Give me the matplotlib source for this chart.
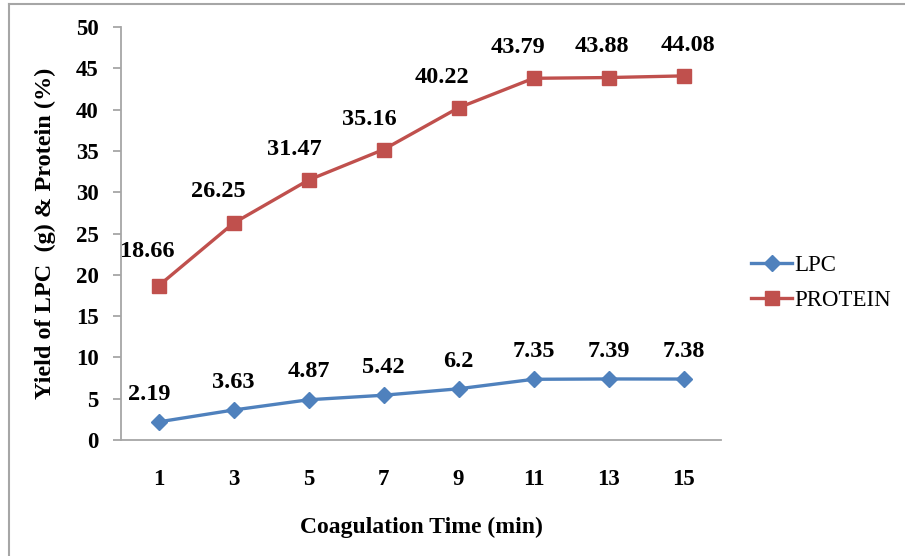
import matplotlib.pyplot as plt
from matplotlib.lines import Line2D

# data
times = ['1', '3', '5', '7', '9', '11', '13', '15']
lpc = [2.19, 3.63, 4.87, 5.42, 6.2, 7.35, 7.39, 7.38]
protein = [18.66, 26.25, 31.47, 35.16, 40.22, 43.79, 43.88, 44.08]
lpc_labels = ['2.19', '3.63', '4.87', '5.42', '6.2', '7.35', '7.39', '7.38']
protein_labels = ['18.66', '26.25', '31.47', '35.16', '40.22', '43.79', '43.88', '44.08']

plt.rcParams['font.family'] = ['Liberation Serif', 'DejaVu Serif']

fig = plt.figure(figsize=(9.05, 5.56), dpi=100)
ax = fig.add_axes([121/905, 1 - 440/556, 600/905, 413/556])

x = list(range(len(times)))
ax.plot(x, lpc, color='#4F81BD', lw=2.4, marker='D', ms=8.5, label='LPC')
ax.plot(x, protein, color='#C0504D', lw=2.4, marker='s', ms=10.5, label='PROTEIN')

# data labels (small horizontal nudges as in the original)
lpc_dx = [-7, 0, 0, 0, 0, 0, 0, 0]
prot_dx = [-8, -11, -10, -10, -12, -11, -5, 3]
prot_dy = [25, 23, 22, 22, 22, 22, 22, 22]
for i in x:
    ax.annotate(lpc_labels[i], (i, lpc[i]), xytext=(lpc_dx[i], 20), textcoords='offset points',
                ha='center', va='center', fontsize=17.5, fontweight='bold')
    ax.annotate(protein_labels[i], (i, protein[i]), xytext=(prot_dx[i], prot_dy[i]), textcoords='offset points',
                ha='center', va='center', fontsize=17.5, fontweight='bold')

ax.set_xlim(-0.5, len(times) - 0.5)
ax.set_ylim(0, 50)
ax.set_xticks(x)
ax.set_xticklabels(times)
ax.set_yticks(range(0, 51, 5))

for s in ['top', 'right']:
    ax.spines[s].set_visible(False)
for s in ['left', 'bottom']:
    ax.spines[s].set_color('#A6A6A6')
    ax.spines[s].set_linewidth(1.3)

ax.tick_params(axis='x', length=0, pad=21, labelsize=16.5)
ax.tick_params(axis='y', length=6, width=1.3, color='#A6A6A6', pad=10, labelsize=16.5)
for t in ax.get_xticklabels() + ax.get_yticklabels():
    t.set_fontweight('bold')

ax.set_xlabel('Coagulation Time (min)', fontsize=17, fontweight='bold', labelpad=19)
ax.set_ylabel('Yield of LPC  (g) & Protein (%)', fontsize=17.5, fontweight='bold', labelpad=14)

ax.legend(loc='center left', bbox_to_anchor=(1.035, 0.38), frameon=False, fontsize=16.5,
          handlelength=1.8, handletextpad=0.1, labelspacing=0.6, borderaxespad=0)

# thin grey border round the chart area
fig.add_artist(Line2D([9/905, 9/905], [0, 1 - 4/556], color='#A6A6A6', lw=1.5))
fig.add_artist(Line2D([9/905, 1], [1 - 4/556, 1 - 4/556], color='#A6A6A6', lw=1.5))

fig.savefig('out.png', dpi=100)
